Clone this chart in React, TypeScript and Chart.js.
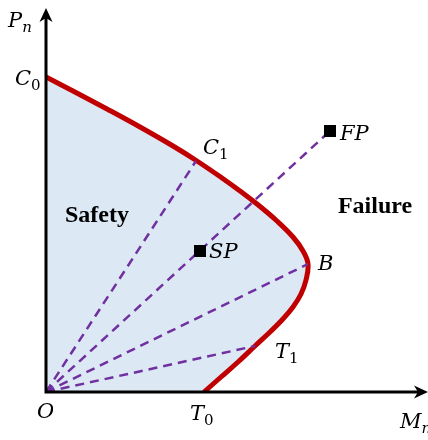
import React, { useEffect, useRef } from "react";
import { Chart, registerables } from "chart.js";

Chart.register(...registerables);

// Interaction curve (bending moment M_n, axial load P_n), from C0 down to T0
const curveM = [0, 27, 61, 94, 127, 151, 176, 194, 211, 231, 247, 257, 262, 260, 255, 247, 236, 224, 209, 192, 175, 158];
const curveP = [315, 301, 283, 265, 246, 231, 214, 201, 188, 171, 155, 141, 128, 112, 98, 85, 72, 60, 46, 30, 15, 0];

// Loading rays from the origin
const rayNames = ["C1", "B", "T1", "FP"];
const rayM = [150, 262, 209, 284];
const rayP = [231, 128, 46, 261];

// Marked load states
const pointNames = ["SP", "FP"];
const pointM = [154, 284];
const pointP = [141, 261];

const AXIS_MAX_M = 382;
const AXIS_MAX_P = 382;

const RED = "#c00000";
const PURPLE = "#7030a0";
const FILL = "#dde8f5";
const MATH_FONT = "'DejaVu Serif', serif";
const TEXT_FONT = "'Liberation Serif', serif";

type MathLabel = { main: string; sub?: string; m: number; p: number; dx: number; dy: number };

const mathLabels: MathLabel[] = [
  { main: "P", sub: "n", m: 0, p: AXIS_MAX_P, dx: -38, dy: 17 },
  { main: "C", sub: "0", m: 0, p: curveP[0], dx: -31, dy: 8 },
  { main: "C", sub: "1", m: rayM[0], p: rayP[0], dx: 7, dy: -7 },
  { main: "B", m: rayM[1], p: rayP[1], dx: 10, dy: 6 },
  { main: "T", sub: "1", m: rayM[2], p: rayP[2], dx: 20, dy: 12 },
  { main: "FP", m: pointM[1], p: pointP[1], dx: 10, dy: 9 },
  { main: "SP", m: pointM[0], p: pointP[0], dx: 9, dy: 7 },
  { main: "O", m: 0, p: 0, dx: -9, dy: 26 },
  { main: "T", sub: "0", m: curveM[curveM.length - 1], p: 0, dx: -14, dy: 28 },
  { main: "M", sub: "n", m: AXIS_MAX_M, p: 0, dx: -28, dy: 36 },
];

const regionLabels = [
  { text: "Safety", m: 51, p: 170 },
  { text: "Failure", m: 329, p: 179 },
];

const axesPlugin = {
  id: "arrowAxes",
  afterDatasetsDraw(chart: any) {
    const { ctx, scales } = chart;
    const x0 = scales.x.getPixelForValue(0);
    const y0 = scales.y.getPixelForValue(0);
    const xEnd = scales.x.getPixelForValue(AXIS_MAX_M);
    const yEnd = scales.y.getPixelForValue(AXIS_MAX_P) - 2;
    ctx.save();
    ctx.strokeStyle = "#000";
    ctx.fillStyle = "#000";
    ctx.lineWidth = 3;
    ctx.beginPath();
    ctx.moveTo(x0, y0 + 1.5);
    ctx.lineTo(x0, yEnd + 6);
    ctx.moveTo(x0 - 1.5, y0);
    ctx.lineTo(xEnd - 6, y0);
    ctx.stroke();
    // arrow heads
    ctx.beginPath();
    ctx.moveTo(x0, yEnd);
    ctx.lineTo(x0 - 6.5, yEnd + 14);
    ctx.lineTo(x0, yEnd + 10);
    ctx.lineTo(x0 + 6.5, yEnd + 14);
    ctx.closePath();
    ctx.fill();
    ctx.beginPath();
    ctx.moveTo(xEnd, y0);
    ctx.lineTo(xEnd - 14, y0 - 6.5);
    ctx.lineTo(xEnd - 10, y0);
    ctx.lineTo(xEnd - 14, y0 + 6.5);
    ctx.closePath();
    ctx.fill();
    ctx.restore();
  },
};

const labelsPlugin = {
  id: "mathLabels",
  afterDraw(chart: any) {
    const { ctx, scales } = chart;
    ctx.save();
    ctx.fillStyle = "#000";
    ctx.textBaseline = "alphabetic";
    ctx.textAlign = "left";
    for (const l of mathLabels) {
      const x = scales.x.getPixelForValue(l.m) + l.dx;
      const y = scales.y.getPixelForValue(l.p) + l.dy;
      ctx.font = `italic 21px ${MATH_FONT}`;
      ctx.fillText(l.main, x, y);
      if (l.sub) {
        const w = ctx.measureText(l.main).width;
        const italicSub = /[a-z]/.test(l.sub);
        ctx.font = `${italicSub ? "italic " : ""}15px ${MATH_FONT}`;
        ctx.fillText(l.sub, x + w, y + 5);
      }
    }
    ctx.font = `bold 24px ${TEXT_FONT}`;
    ctx.textAlign = "center";
    for (const r of regionLabels) {
      ctx.fillText(r.text, scales.x.getPixelForValue(r.m), scales.y.getPixelForValue(r.p));
    }
    ctx.restore();
  },
};

export default function App() {
  const canvasRef = useRef<HTMLCanvasElement>(null);

  useEffect(() => {
    const canvas = canvasRef.current;
    if (!canvas) return;

    const rayDatasets = rayNames.map((name, i) => ({
      label: name,
      data: [
        { x: 0, y: 0 },
        { x: rayM[i], y: rayP[i] },
      ],
      borderColor: PURPLE,
      borderWidth: 2.5,
      borderDash: [9, 6],
      pointRadius: 0,
      fill: false,
      tension: 0,
      order: 1,
    }));

    const chart = new Chart(canvas, {
      type: "line",
      data: {
        datasets: [
          {
            label: "Interaction curve",
            data: curveM.map((m, i) => ({ x: m, y: curveP[i] })),
            borderColor: RED,
            borderWidth: 5,
            backgroundColor: FILL,
            fill: "origin",
            tension: 0.4,
            pointRadius: 0,
            borderCapStyle: "butt",
            order: 2,
          } as any,
          ...rayDatasets,
          {
            label: pointNames.join(", "),
            data: pointM.map((m, i) => ({ x: m, y: pointP[i] })),
            showLine: false,
            pointStyle: "rect",
            pointRadius: 8.5,
            pointBackgroundColor: "#000",
            pointBorderColor: "#000",
            pointBorderWidth: 0,
            order: 0,
          } as any,
        ],
      },
      options: {
        indexAxis: "y",
        animation: false,
        responsive: false,
        layout: { autoPadding: false, padding: { left: 46, top: 10, right: 0, bottom: 48 } },
        plugins: { legend: { display: false }, tooltip: { enabled: false } },
        events: [],
        scales: {
          x: { type: "linear", min: 0, max: AXIS_MAX_M, display: false },
          y: { type: "linear", min: 0, max: AXIS_MAX_P, display: false },
        },
      },
      plugins: [axesPlugin, labelsPlugin],
    });

    return () => chart.destroy();
  }, []);

  return (
    <div style={{ position: "fixed", left: 0, top: 0, width: 428, height: 440, background: "#fff" }}>
      <canvas ref={canvasRef} width={428} height={440} style={{ display: "block" }} />
    </div>
  );
}
